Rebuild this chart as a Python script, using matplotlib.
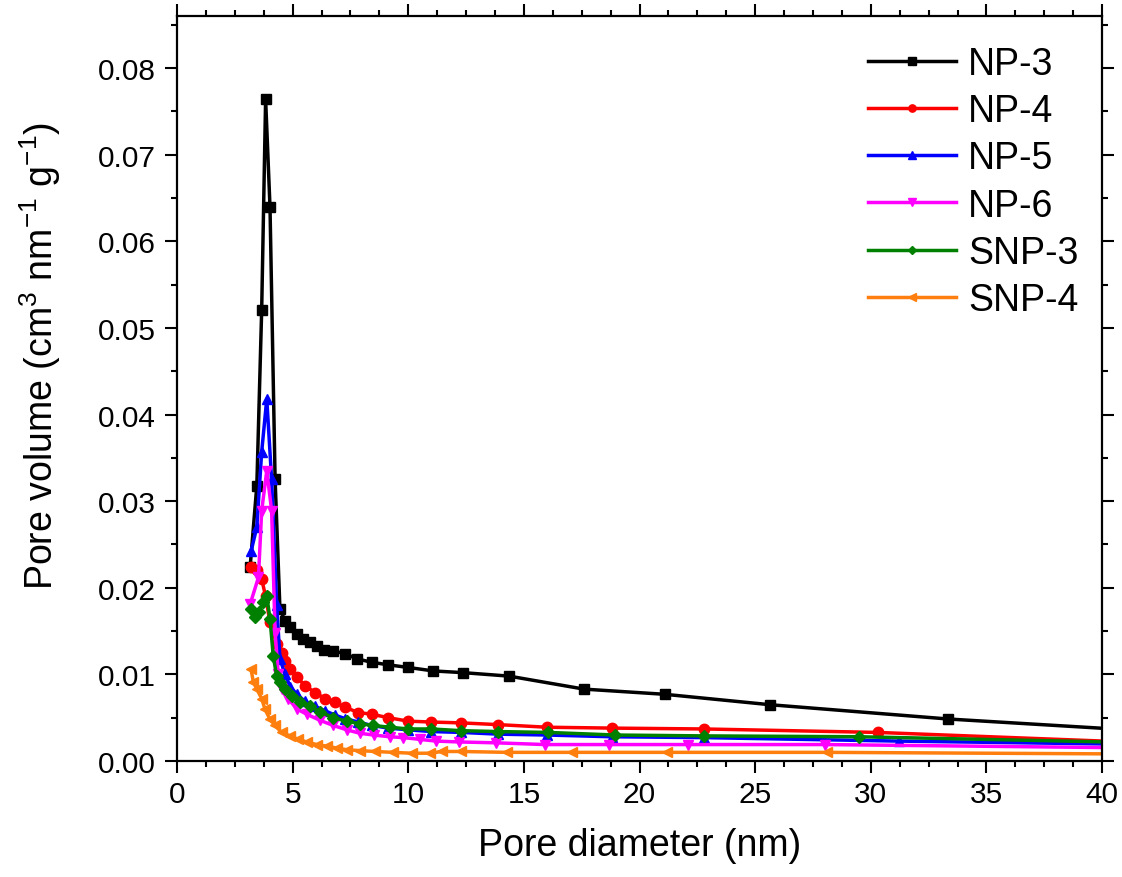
import matplotlib
matplotlib.use("Agg")
import matplotlib.pyplot as plt
from matplotlib.ticker import MultipleLocator, FormatStrFormatter

plt.rcParams['font.family'] = ['Liberation Sans', 'DejaVu Sans']
plt.rcParams['mathtext.fontset'] = 'custom'
plt.rcParams['mathtext.rm'] = 'Liberation Sans'
plt.rcParams['mathtext.it'] = 'Liberation Sans:italic'

# BJH pore size distributions
np3_x = [3.16, 3.45, 3.66, 3.83, 4.02, 4.24, 4.45, 4.67, 4.89, 5.18, 5.46, 5.75,
         6.04, 6.36, 6.76, 7.26, 7.77, 8.42, 9.14, 10.0, 11.08, 12.38, 14.36,
         17.6, 21.1, 25.64, 33.35, 43.0]
np3_y = [0.0224, 0.0318, 0.0521, 0.0764, 0.0639, 0.0325, 0.0175, 0.0162, 0.0155,
         0.0147, 0.0141, 0.0137, 0.0133, 0.0128, 0.0127, 0.0124, 0.0118, 0.0114,
         0.0111, 0.0108, 0.0104, 0.0102, 0.0098, 0.0083, 0.0077, 0.0065, 0.00485,
         0.0033]

np4_x = [3.2, 3.45, 3.66, 3.83, 4.02, 4.31, 4.52, 4.67, 4.89, 5.18, 5.53, 5.97,
         6.4, 6.83, 7.26, 7.84, 8.42, 9.14, 10.0, 11.0, 12.3, 13.9, 16.0, 18.8,
         22.8, 30.3, 42.0]
np4_y = [0.0224, 0.0221, 0.0210, 0.0190, 0.0160, 0.0135, 0.0125, 0.0116, 0.0106,
         0.0097, 0.0087, 0.0079, 0.0072, 0.0068, 0.0062, 0.0056, 0.0054, 0.0050,
         0.0046, 0.0045, 0.0044, 0.0042, 0.0039, 0.0038, 0.0037, 0.0033, 0.0021]

np5_x = [3.2, 3.45, 3.66, 3.88, 4.09, 4.31, 4.45, 4.67, 4.89, 5.18, 5.53, 5.97,
         6.4, 6.83, 7.26, 7.84, 8.42, 9.14, 10.0, 11.0, 12.3, 13.9, 16.0, 18.8,
         22.8, 31.2, 42.0]
np5_y = [0.0242, 0.0270, 0.0357, 0.0418, 0.0325, 0.0180, 0.0118, 0.0100, 0.0086,
         0.0077, 0.0069, 0.0063, 0.0058, 0.0053, 0.0049, 0.0045, 0.0041, 0.0038,
         0.0036, 0.0034, 0.0033, 0.0031, 0.0030, 0.0028, 0.0027, 0.0023, 0.0019]

np6_x = [3.16, 3.52, 3.66, 3.88, 4.09, 4.24, 4.38, 4.52, 4.81, 5.18, 5.61, 6.18,
         6.76, 7.34, 7.91, 8.5, 9.2, 9.79, 10.5, 11.2, 12.2, 13.8, 15.9, 18.7,
         22.1, 28.0, 42.0]
np6_y = [0.0181, 0.0212, 0.0289, 0.0335, 0.0289, 0.0148, 0.0100, 0.0083, 0.0072,
         0.0060, 0.0054, 0.0047, 0.0041, 0.0036, 0.0032, 0.0030, 0.0028, 0.0027,
         0.0025, 0.0023, 0.0022, 0.0021, 0.0019, 0.0019, 0.0019, 0.0019, 0.0015]

snp3_x = [3.2, 3.37, 3.55, 3.73, 3.88, 4.02, 4.16, 4.31, 4.45, 4.67, 4.96, 5.32,
          5.75, 6.18, 6.76, 7.34, 7.91, 8.49, 9.2, 10.0, 11.0, 12.3, 13.9, 16.05,
          18.96, 22.8, 29.5, 42.0]
snp3_y = [0.0176, 0.0166, 0.0172, 0.0184, 0.0191, 0.0164, 0.0121, 0.0098, 0.0091,
          0.0083, 0.0075, 0.0068, 0.0063, 0.0057, 0.0050, 0.0046, 0.0043, 0.0041,
          0.0039, 0.0037, 0.0037, 0.0035, 0.0034, 0.0033, 0.0030, 0.0029, 0.0028,
          0.0021]

snp4_x = [3.2, 3.3, 3.45, 3.66, 3.8, 4.02, 4.24, 4.52, 4.89, 5.24, 5.61, 6.04,
          6.5, 6.9, 7.34, 7.91, 8.56, 9.35, 10.15, 10.94, 11.45, 12.3, 14.26,
          17.07, 21.2, 28.1, 42.0]
snp4_y = [0.0106, 0.0091, 0.0083, 0.0072, 0.0060, 0.0048, 0.0041, 0.0033, 0.0029,
          0.0025, 0.0022, 0.0019, 0.0017, 0.0015, 0.0013, 0.0012, 0.0011, 0.0010,
          0.0009, 0.0009, 0.0011, 0.0011, 0.0010, 0.0010, 0.0010, 0.0010, 0.0008]

series = [
    ("NP-3", np3_x, np3_y, "black", "s"),
    ("NP-4", np4_x, np4_y, "red", "o"),
    ("NP-5", np5_x, np5_y, "blue", "^"),
    ("NP-6", np6_x, np6_y, "magenta", "v"),
    ("SNP-3", snp3_x, snp3_y, "green", "D"),
    ("SNP-4", snp4_x, snp4_y, "#ff7f0e", "<"),
]

fig = plt.figure(figsize=(11.22, 8.78), dpi=100)
ax = fig.add_axes([0.1578, 0.1321, 0.8244, 0.8485])

for name, xs, ys, col, mk in series:
    ms = 6.5 if mk == "D" else 7.5
    ax.plot(xs, ys, color=col, marker=mk, markersize=ms, linewidth=2.5, label=name)

ax.set_xlim(0, 40)
ax.set_ylim(0, 0.086)
ax.xaxis.set_major_locator(MultipleLocator(5))
ax.xaxis.set_minor_locator(MultipleLocator(1.25))
ax.yaxis.set_major_locator(MultipleLocator(0.01))
ax.yaxis.set_minor_locator(MultipleLocator(0.005))
ax.yaxis.set_major_formatter(FormatStrFormatter('%.2f'))

ax.tick_params(which='both', direction='out', top=True, right=True, width=1.5)
ax.tick_params(which='major', length=8.5, labelsize=21.5)
ax.tick_params(axis='y', which='major', pad=7)
ax.tick_params(axis='x', which='major', pad=5)
ax.tick_params(which='minor', length=4.5)
for sp in ax.spines.values():
    sp.set_linewidth(1.6)

ax.set_xlabel("Pore diameter (nm)", fontsize=27)
ax.xaxis.set_label_coords(0.5, -0.089)
ax.set_ylabel("Pore volume (cm$^{3}$ nm$^{-1}$ g$^{-1}$)", fontsize=27, va='center')
ax.yaxis.set_label_coords(-0.148, 0.545)

leg = ax.legend(loc='upper left', bbox_to_anchor=(0.747, 0.96), frameon=False,
                fontsize=27, handlelength=2.35, handletextpad=0.32,
                labelspacing=0.3, borderpad=0, borderaxespad=0, markerscale=0.7)

fig.savefig("out.png", dpi=100)
